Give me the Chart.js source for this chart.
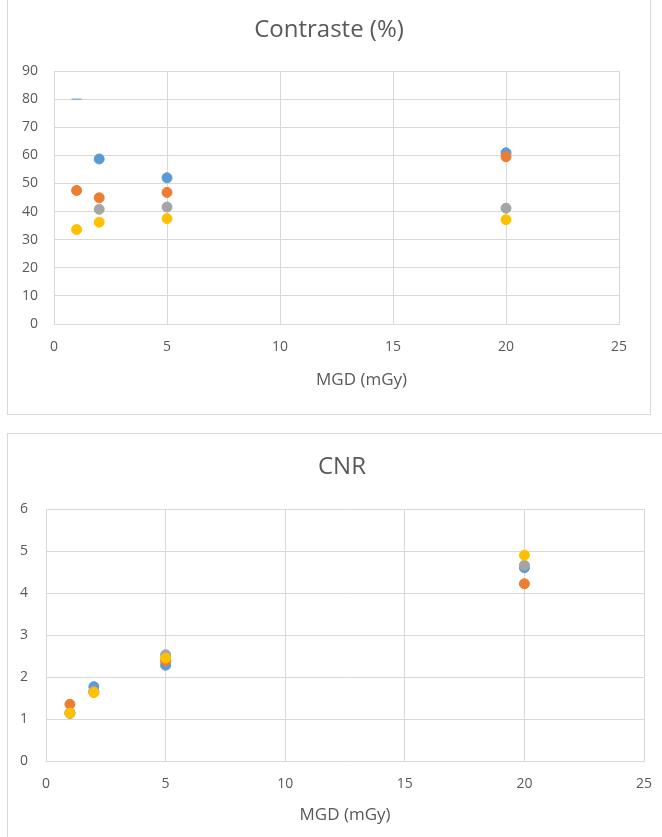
<!DOCTYPE html>
<html>
<head>
<meta charset="utf-8">
<script src="https://cdn.jsdelivr.net/npm/chart.js@4.4.1/dist/chart.umd.min.js"></script>
<style>
  html, body { margin: 0; padding: 0; background: #fff; overflow: hidden; width: 662px; height: 837px; }
  .frame { position: absolute; border: 1px solid #d9d9d9; background: #fff; }
  #frameTop { left: 7px; top: -1px; width: 642px; height: 414px; }
  #frameBottom { left: 7px; top: 433px; width: 668px; height: 420px; }
  .frame canvas { position: absolute; left: 0; top: 0; }
</style>
</head>
<body>
<div class="frame" id="frameTop"><canvas id="contrastChart"></canvas></div>
<div class="frame" id="frameBottom"><canvas id="cnrChart"></canvas></div>
<script>
// MGD values (mGy)
const mgd = [1, 2, 5, 20];

// Contraste (%) per series
const contrastBlue = [80, 58.7, 52.0, 60.9];
const contrastOrange = [47.5, 44.9, 46.8, 59.5];
const contrastGray = [null, 40.8, 41.6, 41.2];
const contrastYellow = [33.6, 36.2, 37.5, 37.1];

// CNR per series
const cnrBlue = [1.15, 1.77, 2.28, 4.6];
const cnrOrange = [1.35, 1.64, 2.38, 4.22];
const cnrGray = [1.13, 1.66, 2.53, 4.66];
const cnrYellow = [1.14, 1.63, 2.45, 4.9];

const xTicks = [0, 5, 10, 15, 20, 25];
const colors = ['#5b9bd5', '#ed7d31', '#a5a5a5', '#ffc000'];
const textColor = '#595959';
const gridColor = '#d9d9d9';
const fontFamily = "'Open Sans', 'Noto Sans', sans-serif";

function toPoints(values) {
  return mgd.map((x, i) => ({ x: x, y: values[i] }));
}

function makeDatasets(series, styles) {
  return series.map((values, i) => ({
    data: toPoints(values),
    backgroundColor: colors[i],
    borderColor: colors[i],
    pointRadius: 5,
    pointHoverRadius: 5,
    pointBorderWidth: 1,
    pointStyle: styles ? styles[i] : 'circle',
    showLine: false,
    order: 4 - i
  }));
}

// chart title and x axis title, placed by hand like the Excel original
// (title centred on the frame, axis title a bit off-centre in the top chart)
const chartTexts = {
  id: 'chartTexts',
  afterDraw(chart, args, opts) {
    const { ctx, chartArea } = chart;
    ctx.save();
    ctx.fillStyle = textColor;
    ctx.textAlign = 'center';
    ctx.textBaseline = 'middle';
    ctx.font = `${opts.titleSize}px ${fontFamily}`;
    ctx.fillText(opts.title, chart.width / 2, opts.titleY);
    ctx.font = `${opts.axisSize}px ${fontFamily}`;
    ctx.fillText(opts.axisTitle, (chartArea.left + chartArea.right) / 2 + opts.axisDx, opts.axisY);
    ctx.restore();
  }
};

function makeChart(id, w, h, cfg) {
  const canvas = document.getElementById(id);
  canvas.style.width = w + 'px';
  canvas.style.height = h + 'px';
  return new Chart(canvas, {
    type: 'scatter',
    data: { datasets: cfg.datasets },
    options: {
      responsive: false,
      animation: false,
      events: [],
      layout: { padding: { left: 0, right: cfg.padRight, top: cfg.padTop, bottom: 0 } },
      plugins: {
        legend: { display: false },
        tooltip: { enabled: false },
        title: { display: false },
        chartTexts: {
          title: cfg.title,
          titleSize: 24,
          titleY: cfg.titleY,
          axisTitle: 'MGD (mGy)',
          axisSize: 17,
          axisDx: cfg.axisDx,
          axisY: cfg.axisY
        }
      },
      scales: {
        x: {
          type: 'linear',
          min: 0,
          max: 25,
          afterBuildTicks: (s) => { s.ticks = xTicks.map(v => ({ value: v })); },
          afterFit: (s) => { s.height = cfg.xHeight; },
          grid: { color: gridColor, lineWidth: 1, drawTicks: false },
          border: { color: gridColor, width: 1 },
          ticks: { color: textColor, padding: cfg.xTickPad, font: { family: fontFamily, size: 14 }, maxRotation: 0 }
        },
        y: {
          min: 0,
          max: cfg.yMax,
          afterFit: (s) => { s.width = cfg.yWidth; },
          grid: { color: gridColor, lineWidth: 1, drawTicks: false },
          border: { color: gridColor, width: 1 },
          ticks: { color: textColor, stepSize: cfg.yStep, padding: cfg.yTickPad, font: { family: fontFamily, size: 14 } }
        }
      }
    },
    plugins: [chartTexts]
  });
}

makeChart('contrastChart', 642, 414, {
  title: 'Contraste (%)',
  datasets: makeDatasets(
    [contrastBlue, contrastOrange, contrastGray, contrastYellow],
    [['line', 'circle', 'circle', 'circle'], 'circle', 'circle', 'circle']
  ),
  padRight: 31,
  padTop: 71,
  titleY: 30,
  xHeight: 90,
  xTickPad: 15,
  axisDx: 25,
  axisY: 380,
  yMax: 90,
  yStep: 10,
  yWidth: 46,
  yTickPad: 16
});

makeChart('cnrChart', 668, 403, {
  title: 'CNR',
  datasets: makeDatasets([cnrBlue, cnrOrange, cnrGray, cnrYellow]),
  padRight: 32,
  padTop: 75,
  titleY: 33,
  xHeight: 76,
  xTickPad: 15,
  axisDx: 0,
  axisY: 381,
  yMax: 6,
  yStep: 1,
  yWidth: 38,
  yTickPad: 18
});
</script>
</body>
</html>
